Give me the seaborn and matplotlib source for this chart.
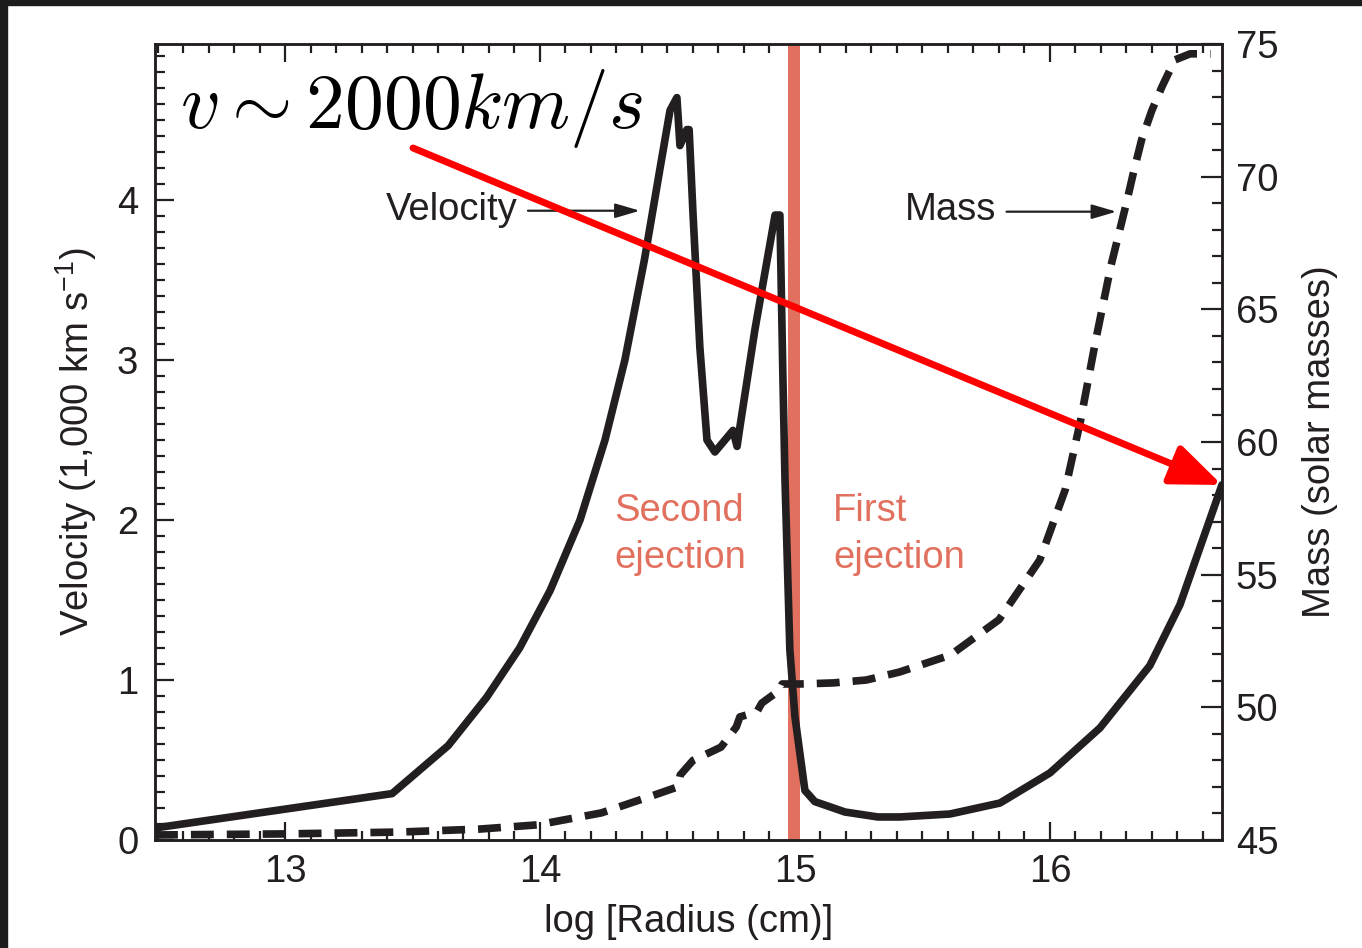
import matplotlib
matplotlib.use("Agg")
import matplotlib.pyplot as plt
import seaborn as sns
import pandas as pd
from matplotlib.ticker import MultipleLocator, FixedLocator
from matplotlib.patches import Rectangle

# ---------------- data ----------------
vel_log_r = [12.49, 13.42, 13.64, 13.79, 13.92, 14.04, 14.157, 14.255, 14.333, 14.41,
             14.47, 14.51, 14.537, 14.549, 14.576, 14.585, 14.60, 14.627, 14.655,
             14.686, 14.757, 14.773, 14.784, 14.843, 14.922, 14.941, 14.953, 14.961,
             14.98, 15.0, 15.039, 15.078, 15.196, 15.325, 15.412, 15.608, 15.804,
             16.0, 16.196, 16.392, 16.51, 16.588, 16.675]
vel_kms = [0.075, 0.29, 0.59, 0.89, 1.2, 1.56, 2.0, 2.5, 3.0, 3.63,
           4.19, 4.56, 4.64, 4.34, 4.44, 4.44, 3.92, 3.08, 2.5,
           2.425, 2.56, 2.46, 2.58, 3.19, 3.906, 3.906, 2.875, 2.25,
           1.19, 0.77, 0.31, 0.24, 0.175, 0.144, 0.144, 0.1625, 0.231,
           0.419, 0.70, 1.09, 1.47, 1.825, 2.22]

mass_log_r = [12.49, 13.0, 13.45, 13.76, 13.99, 14.24, 14.45, 14.54, 14.55, 14.60,
              14.71, 14.77, 14.784, 14.85, 14.87, 14.94, 14.95, 15.02, 15.15, 15.28,
              15.41, 15.61, 15.80, 15.96, 16.06, 16.12, 16.18, 16.24, 16.30, 16.33,
              16.36, 16.40, 16.44, 16.49, 16.55, 16.63]
mass_msun = [45.19, 45.23, 45.30, 45.41, 45.57, 46.02, 46.7, 47.0, 47.45, 48.0,
             48.5, 49.26, 49.64, 49.82, 50.16, 50.65, 50.88, 50.88, 50.92, 51.03,
             51.33, 51.97, 53.3, 55.55, 58.2, 60.8, 63.85, 66.67, 69.0, 70.25,
             71.4, 72.5, 73.4, 74.4, 74.63, 74.63]

x_ticks = [13, 14, 15, 16]
vel_ticks = [0, 1, 2, 3, 4]
mass_ticks = [45, 50, 55, 60, 65, 70, 75]

# ---------------- style ----------------
sns.set_style("white")
plt.rcParams["font.family"] = ["Liberation Sans", "DejaVu Sans"]
plt.rcParams["mathtext.fontset"] = "custom"
plt.rcParams["mathtext.rm"] = "Liberation Sans"
plt.rcParams["mathtext.it"] = "Liberation Sans:italic"
plt.rcParams["mathtext.default"] = "it"

INK = "#231f20"
SALMON = "#E2705E"
FS = 27.5

fig = plt.figure(figsize=(13.62, 9.48), dpi=100)
fig.patch.set_facecolor("white")
ax = fig.add_axes([155 / 1362, 1 - 840 / 948, 1067 / 1362, 796 / 948])
ax2 = ax.twinx()

# ejection boundary band
ax.axvspan(14.973, 15.02, color=SALMON, lw=0, zorder=1)

# velocity curve
vel_df = pd.DataFrame({"log_r": vel_log_r, "v": vel_kms})
sns.lineplot(data=vel_df, x="log_r", y="v", ax=ax, color=INK, linewidth=5.5,
             sort=False, estimator=None, zorder=3)

# mass curve (dashed)
mass_df = pd.DataFrame({"log_r": mass_log_r, "m": mass_msun})
sns.lineplot(data=mass_df, x="log_r", y="m", ax=ax2, color=INK, linewidth=5.5,
             sort=False, estimator=None, zorder=3)
ax2.lines[0].set_dashes([3.0, 1.7])

# limits
ax.set_xlim(12.49, 16.675)
ax.set_ylim(0, 4.975)
ax2.set_ylim(45, 75)

# ticks
ax.xaxis.set_major_locator(FixedLocator(x_ticks))
ax.xaxis.set_minor_locator(MultipleLocator(0.1))
ax.yaxis.set_major_locator(FixedLocator(vel_ticks))
ax.yaxis.set_minor_locator(MultipleLocator(0.1))
ax2.yaxis.set_major_locator(FixedLocator(mass_ticks))
ax2.yaxis.set_minor_locator(MultipleLocator(1))

ax.tick_params(axis="x", which="major", direction="in", length=13, width=1.6,
               bottom=True, top=True, labelsize=FS, pad=10, colors=INK)
ax.tick_params(axis="x", which="minor", direction="in", length=6.5, width=1.6,
               bottom=True, top=True, colors=INK)
ax.tick_params(axis="y", which="major", direction="in", length=14, width=1.6,
               left=True, right=False, labelsize=FS, pad=12, colors=INK)
ax.tick_params(axis="y", which="minor", direction="in", length=7, width=1.6,
               left=True, right=False, colors=INK)
ax2.tick_params(axis="y", which="major", direction="in", length=15, width=1.6,
                right=True, left=False, labelsize=FS, pad=10, colors=INK)
ax2.tick_params(axis="y", which="minor", direction="in", length=7, width=1.6,
                right=True, left=False, colors=INK)
ax2.tick_params(axis="x", which="both", bottom=False, top=False)

for a in (ax, ax2):
    for s in a.spines.values():
        s.set_color(INK)
        s.set_linewidth(1.8)
        s.set_visible(True)

ax.set_xlabel("log [Radius (cm)]", fontsize=FS, color=INK, labelpad=10)
ax.set_ylabel("Velocity (1,000 km s$^{-1}$)", fontsize=FS, color=INK, labelpad=13)
ax2.set_ylabel("Mass (solar masses)", fontsize=FS, color=INK, labelpad=17)

# in-plot labels
ax.text(13.914, 3.875, "Velocity", fontsize=FS, color=INK, ha="right", va="baseline")
ax.annotate("", xy=(14.392, 3.933), xytext=(13.953, 3.933),
            arrowprops=dict(arrowstyle="-|>,head_length=0.75,head_width=0.22",
                            mutation_scale=20, color=INK, lw=1.6,
                            shrinkA=0, shrinkB=0))
ax.text(15.79, 3.875, "Mass", fontsize=FS, color=INK, ha="right", va="baseline")
ax.annotate("", xy=(16.261, 3.927), xytext=(15.830, 3.927),
            arrowprops=dict(arrowstyle="-|>,head_length=0.75,head_width=0.22",
                            mutation_scale=20, color=INK, lw=1.6,
                            shrinkA=0, shrinkB=0))

ax.text(14.292, 1.995, "Second", fontsize=FS, color=SALMON, ha="left", va="baseline")
ax.text(14.292, 1.70, "ejection", fontsize=FS, color=SALMON, ha="left", va="baseline")
ax.text(15.149, 1.995, "First", fontsize=FS, color=SALMON, ha="left", va="baseline")
ax.text(15.149, 1.70, "ejection", fontsize=FS, color=SALMON, ha="left", va="baseline")

# big math label
ax.text(0.023, 0.894, r"$v \sim 2000 km/s$", transform=ax.transAxes, fontsize=56,
        color="black", ha="left", va="baseline", math_fontfamily="cm")

# red arrow on top of everything
ax2.annotate("", xy=(16.675, 2.219), xytext=(13.502, 4.325),
             xycoords=ax.transData, textcoords=ax.transData,
             arrowprops=dict(arrowstyle="-|>,head_length=0.31,head_width=0.125",
                             mutation_scale=100, color="#FF0000", lw=5,
                             shrinkA=0, shrinkB=0),
             annotation_clip=False, zorder=10)

# dark screenshot border (top and left)
fig.add_artist(Rectangle((0, 0), 7 / 1362, 1, transform=fig.transFigure,
                         color="#1c1c1c", zorder=20))
fig.add_artist(Rectangle((0, 1 - 5 / 948), 1, 5 / 948, transform=fig.transFigure,
                         color="#1c1c1c", zorder=20))

fig.savefig("out.png", dpi=100)
